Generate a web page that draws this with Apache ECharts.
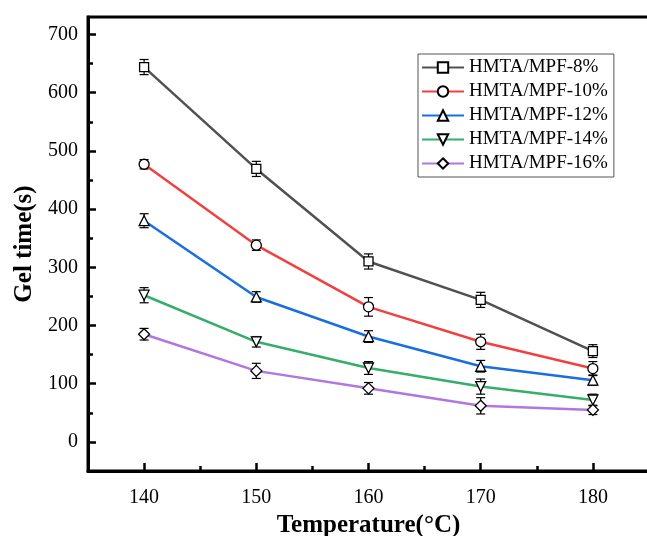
<!DOCTYPE html>
<html>
<head>
<meta charset="utf-8">
<script src="https://cdn.jsdelivr.net/npm/echarts@6/dist/echarts.min.js"></script>
<style>
html,body{margin:0;padding:0;background:#fff;}
#chart{width:647px;height:536px;}
</style>
</head>
<body>
<div id="chart"></div>
<script>
// ---- data ----
const temperatures = [140, 150, 160, 170, 180];
const seriesNames = ['HMTA/MPF-8%', 'HMTA/MPF-10%', 'HMTA/MPF-12%', 'HMTA/MPF-14%', 'HMTA/MPF-16%'];
const gel8  = [644, 469, 310, 244, 156];
const gel10 = [477, 338, 232, 172, 126];
const gel12 = [380, 249, 181, 130, 106];
const gel14 = [252, 172, 127, 95, 72];
const gel16 = [185, 122, 92, 62, 55];
const err8  = [13, 13, 13, 13, 11];
const err10 = [8, 9, 16, 13, 12];
const err12 = [12, 9, 10, 10, 9];
const err14 = [13, 9, 11, 13, 10];
const err16 = [10, 13, 10, 14, 8];
const xTickValues = [140, 150, 160, 170, 180];
const xMinorValues = [145, 155, 165, 175];
const yTickValues = [0, 100, 200, 300, 400, 500, 600, 700];
const yMinorValues = [50, 150, 250, 350, 450, 550, 650];

// ---- styles ----
const colors = ['#515151', '#F14040', '#1A6FDF', '#37AD6B', '#B177DE'];
const symbols = ['rect', 'circle', 'triangle', 'path://M0,0 L10,0 L5,10 Z', 'path://M5,0 L10,5 L5,10 L0,5 Z'];
const symbolSizes = [9, 10, 10, 10, 11];
const FONT = 'Liberation Serif';

const means = [gel8, gel10, gel12, gel14, gel16];
const errs = [err8, err10, err12, err14, err16];

const lineSeries = seriesNames.map((name, i) => ({
  name: name,
  type: 'line',
  xAxisIndex: 0,
  yAxisIndex: 0,
  data: temperatures.map((t, j) => [t, means[i][j]]),
  symbol: symbols[i],
  symbolSize: symbolSizes[i],
  showAllSymbol: true,
  itemStyle: { color: '#fff', borderColor: '#000', borderWidth: 1.3 },
  lineStyle: { color: colors[i], width: 2.5 },
  z: 3,
  emphasis: { disabled: true }
}));

const errData = [];
means.forEach((m, i) => m.forEach((v, j) => errData.push([temperatures[j], v, errs[i][j]])));

const errSeries = {
  type: 'custom',
  name: 'err',
  xAxisIndex: 0,
  yAxisIndex: 0,
  z: 2,
  data: errData,
  renderItem: function (params, api) {
    const x = api.value(0), y = api.value(1), e = api.value(2);
    const top = api.coord([x, y + e]);
    const bot = api.coord([x, y - e]);
    const hw = 4.5;
    const st = { stroke: '#000', lineWidth: 1.2 };
    return {
      type: 'group',
      children: [
        { type: 'line', shape: { x1: top[0], y1: top[1], x2: bot[0], y2: bot[1] }, style: st },
        { type: 'line', shape: { x1: top[0] - hw, y1: top[1], x2: top[0] + hw, y2: top[1] }, style: st },
        { type: 'line', shape: { x1: bot[0] - hw, y1: bot[1], x2: bot[0] + hw, y2: bot[1] }, style: st }
      ]
    };
  }
};

const chart = echarts.init(document.getElementById('chart'), null, { renderer: 'canvas' });
chart.setOption({
  animation: false,
  backgroundColor: '#fff',
  grid: { left: 88, right: -2, top: 17, bottom: 65, show: true, borderColor: '#000', borderWidth: 3, containLabel: false, outerBoundsMode: 'none' },
  legend: {
    data: seriesNames,
    orient: 'vertical',
    left: 418,
    top: 54,
    align: 'left',
    itemWidth: 42,
    itemHeight: 13,
    itemGap: 5,
    padding: [4, 6, 4, 3],
    borderColor: '#555',
    borderWidth: 1,
    textStyle: { fontFamily: FONT, fontSize: 19, color: '#000' }
  },
  xAxis: [
    {
      type: 'value', min: 135, max: 185, position: 'bottom',
      axisLine: { show: true, onZero: false, lineStyle: { color: '#000', width: 3 } },
      axisTick: { show: true, inside: true, length: 8, customValues: xTickValues, lineStyle: { color: '#000', width: 2.5 } },
      axisLabel: { customValues: xTickValues, fontFamily: FONT, fontSize: 20, color: '#000', margin: 17 },
      splitLine: { show: false },
      name: 'Temperature(°C)', nameLocation: 'middle', nameGap: 41,
      nameTextStyle: { fontFamily: FONT, fontSize: 25, fontWeight: 'bold', color: '#000' }
    },
    {
      type: 'value', min: 135, max: 185, position: 'bottom',
      axisLine: { show: false, onZero: false },
      axisTick: { show: true, inside: true, length: 5, customValues: xMinorValues, lineStyle: { color: '#000', width: 2.5 } },
      axisLabel: { show: false },
      splitLine: { show: false }
    }
  ],
  yAxis: [
    {
      type: 'value', min: -50, max: 730, position: 'left',
      axisLine: { show: true, onZero: false, lineStyle: { color: '#000', width: 3 } },
      axisTick: { show: true, inside: true, length: 8, customValues: yTickValues, lineStyle: { color: '#000', width: 2.5 } },
      axisLabel: { customValues: yTickValues, fontFamily: FONT, fontSize: 20, color: '#000', margin: 10 },
      splitLine: { show: false },
      name: 'Gel time(s)', nameLocation: 'middle', nameGap: 43,
      nameTextStyle: { fontFamily: FONT, fontSize: 25, fontWeight: 'bold', color: '#000' }
    },
    {
      type: 'value', min: -50, max: 730, position: 'left',
      axisLine: { show: false, onZero: false },
      axisTick: { show: true, inside: true, length: 5, customValues: yMinorValues, lineStyle: { color: '#000', width: 2.5 } },
      axisLabel: { show: false },
      splitLine: { show: false }
    }
  ],
  series: [errSeries].concat(lineSeries)
});
</script>
</body>
</html>
